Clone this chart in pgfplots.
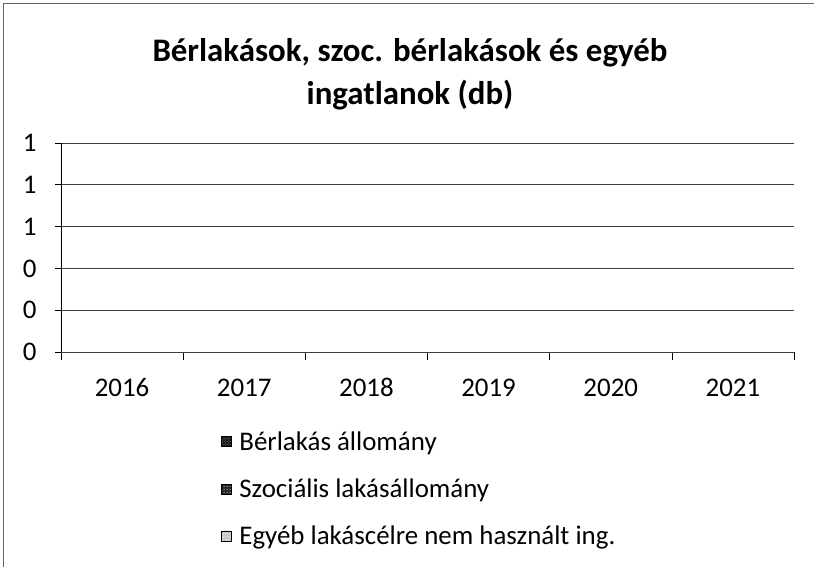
\documentclass[border=0pt]{standalone}
\usepackage{pgfplots}
\pgfplotsset{compat=1.18}
\usepackage{fontspec}
\setmainfont{Carlito}
\usetikzlibrary{patterns}
\begin{document}
\begin{tikzpicture}[x=1bp,y=1bp]
\path[use as bounding box] (0,0) rectangle (814,567);
\draw[black!60, line width=0.8bp] (3,0) -- (3,564) -- (814,564);
\node[font=\fontsize{33}{43}\selectfont\bfseries, align=center] at (410,493) {Bérlakások, szoc. bérlakások és egyéb\\ingatlanok (db)};
\begin{axis}[
  at={(61bp,215bp)}, anchor=south west,
  scale only axis, width=733bp, height=209bp,
  ybar, bar width=20bp,
  xmin=-0.5, xmax=5.5, ymin=0, ymax=1,
  xtick={0,1,2,3,4,5},
  xticklabels={2016,2017,2018,2019,2020,2021},
  minor xtick={-0.5,0.5,1.5,2.5,3.5,4.5,5.5},
  major x tick style={draw=none},
  minor x tick style={black, line width=0.6bp},
  ytick={0,0.2,0.4,0.6,0.8,1},
  yticklabels={0,0,0,1,1,1},
  ymajorgrids,
  grid style={black!75, line width=0.6bp},
  axis x line*=bottom, axis y line*=left,
  x axis line style={black!75, line width=0.6bp, -},
  y axis line style={black, line width=0.6bp, -},
  tick align=outside,
  major tick length=6bp, minor tick length=8bp,
  y tick style={black, line width=0.6bp},
  tick label style={font=\fontsize{27}{30}\selectfont},
  xticklabel style={anchor=center, yshift=-30bp, text height=17bp, text depth=0bp},
  yticklabel style={anchor=east, xshift=-15bp},
  legend style={at={(0.218,-0.37)}, anchor=north west, draw=none, fill=none,
    font=\fontsize{27}{30}\selectfont, row sep=23bp,
    legend cell align=left, inner sep=0pt,
    /tikz/every node/.append style={inner xsep=8bp}},
]
\addplot[draw=none, fill=none, forget plot] coordinates {(0,0) (1,0) (2,0) (3,0) (4,0) (5,0)};
\addplot[draw=none, fill=none, forget plot] coordinates {(0,0) (1,0) (2,0) (3,0) (4,0) (5,0)};
\addplot[draw=none, fill=none, forget plot] coordinates {(0,0) (1,0) (2,0) (3,0) (4,0) (5,0)};
\addlegendimage{legend image code/.code={\fill[black!90] (0bp,-5bp) rectangle (10bp,5bp); \fill[pattern=crosshatch dots, pattern color=black!50] (0bp,-5bp) rectangle (10bp,5bp);}}
\addlegendentry{Bérlakás állomány}
\addlegendimage{legend image code/.code={\fill[black!85] (0bp,-5bp) rectangle (10bp,5bp); \fill[pattern=dots, pattern color=white] (0bp,-5bp) rectangle (10bp,5bp);}}
\addlegendentry{Szociális lakásállomány}
\addlegendimage{legend image code/.code={\fill[black!15] (0bp,-5bp) rectangle (10bp,5bp); \fill[pattern=crosshatch dots, pattern color=black!45] (0bp,-5bp) rectangle (10bp,5bp);}}
\addlegendentry{Egyéb lakáscélre nem használt ing.}
\end{axis}
\end{tikzpicture}
\end{document}
